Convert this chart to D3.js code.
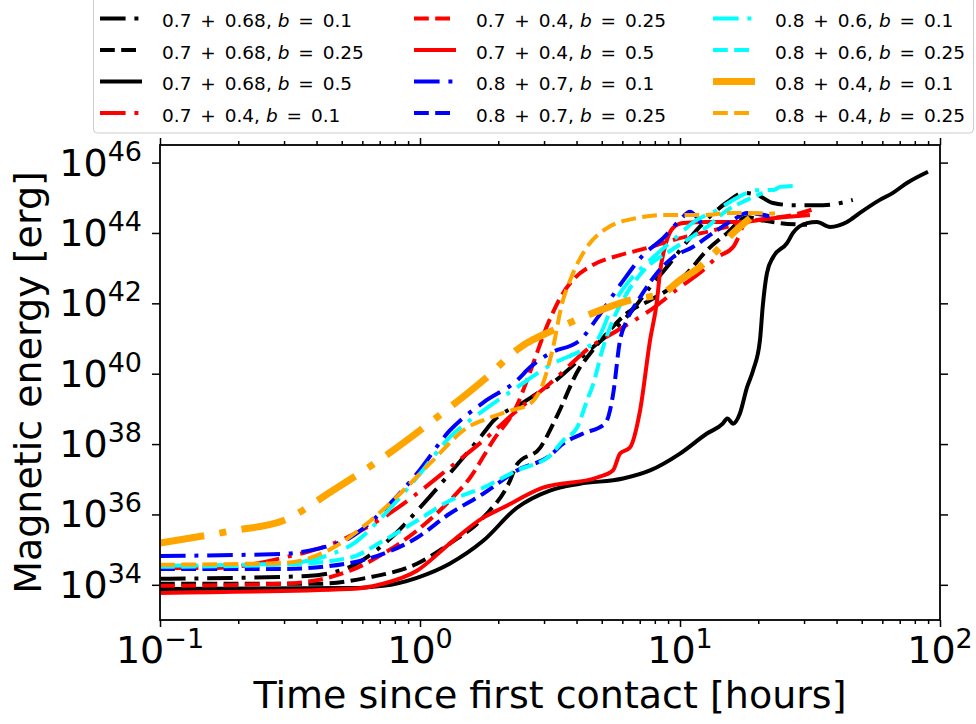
<!DOCTYPE html>
<html>
<head>
<meta charset="utf-8">
<script src="https://cdn.jsdelivr.net/npm/d3@7"></script>
<style>
  body { margin: 0; background: #fff; }
  svg { display: block; }
  text { font-family: "DejaVu Sans", sans-serif; fill: #000; }
</style>
</head>
<body>
<div id="chart"></div>
<script>
// [hours since first contact, log10(magnetic energy / erg)]
const bkDashDot = [[0.1,34.17],[0.367,34.25],[0.538,34.51],[0.767,35.31],[1.03,36.30],[1.30,37.16],[1.75,38.30],[1.91,38.65],[2.49,39.18],[3.25,39.75],[4.62,40.75],[5.52,41.23],[6.42,41.72],[7.67,42.46],[8.91,43.03],[10.0,43.51],[11.9,44.17],[15.2,44.88],[17.5,45.14],[19.8,45.08],[22.8,44.85],[27.2,44.79],[35.5,44.79],[46.2,44.94]];
const bkDashed = [[0.1,34.03],[0.402,34.03],[0.625,34.20],[0.973,34.60],[1.30,35.17],[1.75,35.91],[2.22,36.96],[2.36,37.42],[2.90,37.90],[3.37,38.81],[4.12,40.18],[4.39,40.46],[5.24,41.15],[6.25,41.72],[7.67,42.09],[8.91,42.37],[10.64,42.86],[12.7,43.51],[15.2,44.00],[18.1,44.45],[20.3,44.37],[24.3,44.28],[30.8,44.23]];
const bkSolid = [[0.1,33.88],[0.538,33.91],[0.721,33.97],[0.973,34.20],[1.30,34.60],[1.75,35.25],[2.36,36.19],[3.16,36.68],[4.12,36.87],[6.04,37.02],[7.67,37.25],[10.0,37.73],[12.7,38.30],[14.6,38.58],[15.2,38.73],[16.0,38.58],[17.0,38.87],[18.1,39.61],[19.1,40.09],[20.3,40.95],[20.8,41.9],[21.6,42.86],[22.8,43.31],[25.8,43.71],[27.2,44.00],[30.8,44.28],[33.6,44.31],[37.8,44.17],[43.9,44.31],[49.2,44.57],[58.7,44.94],[65.9,45.14],[74.6,45.42],[89.9,45.74]];
const rdDashDot = [[0.1,34.48],[0.166,34.48],[0.297,34.77],[0.462,35.17],[0.721,35.91],[0.973,36.59],[1.30,37.33],[1.75,38.10],[2.36,38.95],[3.16,39.72],[4.62,40.81],[6.04,41.32],[7.87,41.86],[10.0,42.46],[11.9,42.86],[13.9,43.31],[16.0,43.60],[17.5,44.23]];
const rdDashed = [[0.1,33.97],[0.297,34.03],[0.538,34.40],[0.721,34.88],[0.973,35.54],[1.30,36.39],[1.56,37.05],[1.91,38.10],[2.36,39.10],[2.58,39.81],[2.82,40.60],[3.03,41.23],[3.25,41.75],[3.52,42.25],[3.87,42.66],[4.62,43.09],[5.88,43.37],[7.46,43.57],[9.40,43.80],[13.0,44.05],[19.8,44.37],[27.2,44.51],[33.6,44.71]];
const rdSolid = [[0.1,33.77],[0.538,33.88],[0.721,34.03],[0.973,34.40],[1.30,35.17],[1.75,35.91],[2.08,36.19],[2.97,36.76],[4.80,37.05],[5.52,37.25],[5.88,37.73],[6.42,37.90],[7.02,38.95],[7.67,40.95],[8.16,42.09],[8.37,42.86],[8.91,43.80],[9.40,44.14],[10.27,44.28],[12.7,44.31],[17.0,44.31],[22.8,44.42],[31.6,44.51]];
const blDashDot = [[0.1,34.82],[0.297,34.88],[0.402,35.02],[0.538,35.34],[0.721,36.11],[0.973,37.16],[1.30,38.38],[1.75,39.18],[2.36,39.81],[2.65,40.18],[3.16,40.58],[4.12,40.95],[4.80,41.58],[5.88,42.52],[7.21,43.37],[8.61,43.85],[10.0,44.37],[10.92,44.60],[11.6,44.45],[12.3,44.17]];
const blDashed = [[0.1,34.45],[0.297,34.45],[0.538,34.62],[0.721,34.88],[0.973,35.34],[1.30,36.02],[1.75,36.59],[2.36,37.25],[3.16,37.67],[3.55,38.01],[4.24,38.30],[5.15,38.58],[5.52,39.38],[5.88,40.95],[6.25,41.52],[7.02,42.17],[8.16,42.86],[9.40,43.31],[11.2,43.60],[13.4,44.00],[16.0,44.37],[18.1,44.57],[22.8,44.45]];
const cyDashDot = [[0.1,34.54],[0.297,34.60],[0.538,35.11],[0.721,35.96],[0.973,37.05],[1.30,38.19],[1.75,38.95],[2.36,39.61],[3.16,40.24],[4.39,40.75],[4.80,40.95],[5.52,41.95],[6.42,42.66],[7.46,43.14],[9.40,43.80],[11.6,44.37],[13.9,44.65],[16.0,44.94],[18.1,45.14],[20.3,45.22],[22.8,45.22],[24.3,45.31],[27.7,45.34]];
const cyDashed = [[0.1,34.51],[0.297,34.57],[0.538,34.77],[0.721,35.25],[0.973,35.82],[1.30,36.39],[1.75,36.76],[2.36,37.25],[3.16,37.67],[3.55,38.10],[4.02,38.47],[4.39,39.24],[4.62,39.67],[5.06,40.75],[5.52,41.52],[6.25,42.29],[7.46,43.03],[8.91,43.43],[10.64,43.80],[12.7,44.17],[15.2,44.65],[18.1,44.94],[20.8,45.14]];
const orDashDot = [[0.1,35.19],[0.191,35.54],[0.297,35.82],[0.462,36.68],[0.721,37.62],[1.12,38.67],[1.75,39.81],[2.43,40.75],[3.45,41.32],[4.92,41.80],[6.42,42.09],[8.61,42.29],[10.0,42.66],[11.9,43.03],[13.9,43.51],[16.0,44.00],[18.6,44.42]];
const orDashed = [[0.1,34.57],[0.297,34.62],[0.462,35.05],[0.625,35.74],[0.838,36.59],[1.12,37.53],[1.52,38.47],[1.86,38.75],[2.22,38.95],[2.65,39.15],[2.97,39.72],[3.25,40.75],[3.52,42.00],[3.78,42.66],[4.39,43.60],[5.24,44.14],[6.59,44.40],[8.91,44.51],[12.3,44.51],[15.6,44.57],[23.2,44.55]];

const seriesData = [bkDashDot, bkDashed, bkSolid, rdDashDot, rdDashed, rdSolid, blDashDot, blDashed, cyDashDot, cyDashed, orDashDot, orDashed];
const seriesPair = ['0.7 + 0.68', '0.7 + 0.68', '0.7 + 0.68', '0.7 + 0.4', '0.7 + 0.4', '0.7 + 0.4', '0.8 + 0.7', '0.8 + 0.7', '0.8 + 0.6', '0.8 + 0.6', '0.8 + 0.4', '0.8 + 0.4'];
const seriesB = ['0.1', '0.25', '0.5', '0.1', '0.25', '0.5', '0.1', '0.25', '0.1', '0.25', '0.1', '0.25'];
const seriesColor = ['#000000', '#000000', '#000000', '#ff0000', '#ff0000', '#ff0000', '#0000ff', '#0000ff', '#00ffff', '#00ffff', '#ffa500', '#ffa500'];
const seriesStyle = ['dashdot', 'dashed', 'solid', 'dashdot', 'dashed', 'solid', 'dashdot', 'dashed', 'dashdot', 'dashed', 'dashdot', 'dashed'];
const seriesWidth = [4, 4, 4, 4, 4, 4, 4, 4, 4, 4, 7, 4];

const xMajorTicks = [0.1, 1, 10, 100];
const xTickExps = ['\u22121', '0', '1', '2'];
const yTickExps = [34, 36, 38, 40, 42, 44, 46];

const width = 976;
const height = 724;
const margin = { top: 145, right: 36, bottom: 104, left: 160 };
const innerW = width - margin.left - margin.right;
const innerH = height - margin.top - margin.bottom;

function dashFor(style, lw) {
  if (style === 'dashed') return `${3.7 * lw},${1.6 * lw}`;
  if (style === 'dashdot') return `${6.4 * lw},${2.2 * lw},${lw},${2.2 * lw}`;
  return null;
}

const svg = d3.select('#chart')
  .append('svg')
  .attr('width', width)
  .attr('height', height);

const g = svg.append('g')
  .attr('transform', `translate(${margin.left}, ${margin.top})`);

const x = d3.scaleLog()
  .domain([0.1, 100])
  .range([0, innerW]);

const y = d3.scaleLog()
  .domain([1e33, Math.pow(10, 46.5)])
  .range([innerH, 0]);

// clip lines to the axes box
svg.append('defs').append('clipPath')
  .attr('id', 'plot-clip')
  .append('rect')
  .attr('width', innerW)
  .attr('height', innerH);

const line = d3.line()
  .x(d => x(d[0]))
  .y(d => y(Math.pow(10, d[1])))
  .curve(d3.curveMonotoneX);

const lines = g.append('g').attr('clip-path', 'url(#plot-clip)');

seriesData.forEach((data, i) => {
  lines.append('path')
    .datum(data)
    .attr('fill', 'none')
    .attr('stroke', seriesColor[i])
    .attr('stroke-width', seriesWidth[i])
    .attr('stroke-dasharray', dashFor(seriesStyle[i], seriesWidth[i]))
    .attr('stroke-linejoin', 'round')
    .attr('d', line);
});

// minor x ticks (2..9 per decade)
const xMinor = x.ticks().filter(t => xMajorTicks.indexOf(t) < 0);

const axisStyle = sel => {
  sel.select('.domain').remove();
  sel.selectAll('line').attr('stroke', '#000').attr('stroke-width', 1.5);
};

g.append('g')
  .attr('transform', `translate(0, ${innerH})`)
  .call(d3.axisBottom(x).tickValues(xMajorTicks).tickSize(7).tickFormat(''))
  .call(axisStyle);
g.append('g')
  .attr('transform', `translate(0, ${innerH})`)
  .call(d3.axisBottom(x).tickValues(xMinor).tickSize(4).tickFormat(''))
  .call(axisStyle);
g.append('g')
  .call(d3.axisTop(x).tickValues(xMajorTicks).tickSize(7).tickFormat(''))
  .call(axisStyle);
g.append('g')
  .call(d3.axisTop(x).tickValues(xMinor).tickSize(4).tickFormat(''))
  .call(axisStyle);

const yTicks = yTickExps.map(e => Math.pow(10, e));
g.append('g')
  .call(d3.axisLeft(y).tickValues(yTicks).tickSize(8).tickFormat(''))
  .call(axisStyle);
g.append('g')
  .attr('transform', `translate(${innerW}, 0)`)
  .call(d3.axisRight(y).tickValues(yTicks).tickSize(8).tickFormat(''))
  .call(axisStyle);

// frame
g.append('rect')
  .attr('width', innerW)
  .attr('height', innerH)
  .attr('fill', 'none')
  .attr('stroke', '#000')
  .attr('stroke-width', 1.8);

// tick labels as 10^n
xMajorTicks.forEach((t, i) => {
  const txt = g.append('text')
    .attr('x', x(t))
    .attr('y', innerH + 43)
    .attr('text-anchor', 'middle')
    .attr('font-size', 38);
  txt.append('tspan').text('10');
  txt.append('tspan').attr('dy', -15).attr('font-size', 27).text(xTickExps[i]);
});

yTickExps.forEach(e => {
  const txt = g.append('text')
    .attr('x', -18)
    .attr('y', y(Math.pow(10, e)) + 13)
    .attr('text-anchor', 'end')
    .attr('font-size', 38);
  txt.append('tspan').text('10');
  txt.append('tspan').attr('dy', -15).attr('font-size', 27).text(e);
});

// axis titles
g.append('text')
  .attr('x', innerW / 2)
  .attr('y', innerH + 88)
  .attr('text-anchor', 'middle')
  .attr('font-size', 38)
  .text('Time since first contact [hours]');

g.append('text')
  .attr('transform', `translate(${41 - margin.left}, ${innerH / 2}) rotate(-90)`)
  .attr('text-anchor', 'middle')
  .attr('font-size', 38)
  .text('Magnetic energy [erg]');

// legend: 3 columns x 4 rows, column-major
const legend = svg.append('g');
legend.append('rect')
  .attr('x', 93.5)
  .attr('y', -3)
  .attr('width', 880)
  .attr('height', 136)
  .attr('rx', 4)
  .attr('fill', '#fff')
  .attr('stroke', '#cccccc')
  .attr('stroke-width', 1);

const colTextX = [162, 476, 775];
const rowY = [18.5, 50, 81.5, 113];

seriesData.forEach((data, i) => {
  const col = Math.floor(i / 4);
  const row = i % 4;
  const tx = colTextX[col];
  const cy = rowY[row];
  legend.append('line')
    .attr('x1', tx - 62)
    .attr('x2', tx - 20)
    .attr('y1', cy)
    .attr('y2', cy)
    .attr('stroke', seriesColor[i])
    .attr('stroke-width', seriesWidth[i])
    .attr('stroke-dasharray', dashFor(seriesStyle[i], seriesWidth[i]));
  const txt = legend.append('text')
    .attr('x', tx)
    .attr('y', cy + 8.5)
    .attr('font-size', 18.5);
  txt.append('tspan').attr('word-spacing', 3).text(seriesPair[i]);
  txt.append('tspan').text(', ');
  txt.append('tspan').attr('font-style', 'italic').text('b');
  txt.append('tspan').attr('word-spacing', 3).text(' = ' + seriesB[i]);
});
</script>
</body>
</html>
